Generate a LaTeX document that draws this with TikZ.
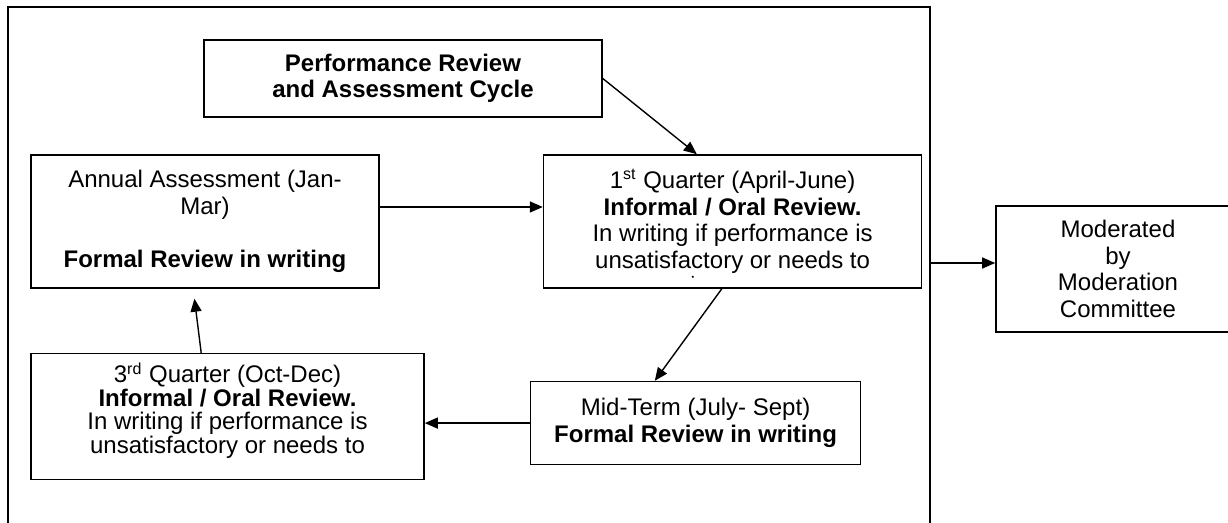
\documentclass[tikz,border=0pt]{standalone}
\usepackage{fontspec}
\setmainfont{Liberation Sans}
\usetikzlibrary{arrows.meta, positioning}

\begin{document}
\begin{tikzpicture}[
      x=0.5pt, y=-0.5pt,
      box/.style={rectangle, draw, line width=0.8pt, inner sep=0pt, align=center,
        font=\fontsize{12}{13.3}\selectfont},
      arrow/.style={-{Triangle[length=6.5pt, width=5.5pt]}, line width=0.7pt}
    ]
      \useasboundingbox (0,0) rectangle (1228,523);

      % Outer frame (open at the bottom)
      \coordinate (frameNW) at (8,7);
      \coordinate (frameNE) at (930,7);
      \draw[line width=0.8pt] (8,540) -- (frameNW) -- (frameNE) -- (930,540);

      % Title
      \node[box, minimum width=199pt, minimum height=38.5pt] (cycle) at (403,78.5)
        {\textbf{Performance Review}\\\textbf{and Assessment Cycle}};

      % Cycle stages
      \node[box, minimum width=174pt, minimum height=66.5pt] (annual) at (205,221.5)
        {Annual Assessment (Jan-\\Mar)\\~\\\textbf{Formal Review in writing}};
      \node[box, minimum width=189pt, minimum height=66.5pt, right=81.5pt of annual] (first)
        {1\textsuperscript{st} Quarter (April-June)\\\textbf{Informal / Oral Review.}\\
         In writing if performance is\\unsatisfactory or needs to};
      \node[box, minimum width=165pt, minimum height=41.5pt,
        below=46pt of first, xshift=-18.5pt] (midterm)
        {Mid-Term (July- Sept)\\\textbf{Formal Review in writing}};
      \node[box, minimum width=196.5pt, minimum height=63pt,
        font=\fontsize{12}{11.75}\selectfont,
        left=52.5pt of midterm, yshift=3.25pt] (third)
        {3\textsuperscript{rd} Quarter (Oct-Dec)\\\textbf{Informal / Oral Review.}\\
         In writing if performance is\\unsatisfactory or needs to\\[-3pt]\mbox{}};

      % clipped last line of the 1st quarter box
      \fill ([xshift=75pt, yshift=6pt]first.south west) circle (0.6pt);

      % Moderation (right side runs off the page)
      \node[box, minimum width=122pt, minimum height=63pt] (moderated) at (1118,269)
        {Moderated\\by\\Moderation\\Committee\hspace*{0pt}};

      % Draw arrows
      \draw[arrow] (cycle.east) -- ([xshift=77pt]first.north west);
      \draw[arrow] ([yshift=7.25pt]annual.east) -- ([yshift=7.25pt]first.west);
      \draw[arrow] ([xshift=89.5pt]first.south west) -- ([xshift=62.5pt]midterm.north west);
      \draw[arrow] (midterm.west) -- (midterm.west -| third.east);
      \draw[arrow, shorten >=5pt] ([xshift=85.5pt]third.north west) -- ([xshift=81.5pt]annual.south west);
      \draw[arrow] ([yshift=3pt]moderated.west -| frameNE) -- ([yshift=3pt]moderated.west);
    \end{tikzpicture}
\end{document}
